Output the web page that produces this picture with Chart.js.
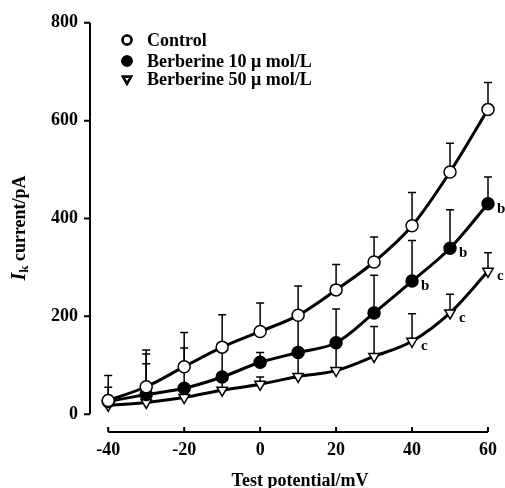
<!DOCTYPE html>
<html>
<head>
<meta charset="utf-8">
<script src="https://cdn.jsdelivr.net/npm/chart.js@4.4.1/dist/chart.umd.min.js"></script>
<style>
    body { margin: 0; background: #fff; }
    #wrap { width: 505px; height: 488px; }
</style>
</head>
<body>
<div id="wrap"><canvas id="ikChart" width="505" height="488"></canvas></div>
<script>
// ===== Datos =====
const testPotential = [-40, -30, -20, -10, 0, 10, 20, 30, 40, 50, 60];
const controlMean = [28, 56, 97, 137, 169, 202, 254, 311, 385, 495, 623];
const controlSD   = [51, 75, 70, 66, 58, 60, 52, 51, 68, 59, 55];
const ber10Mean   = [26, 40, 53, 76, 106, 126, 146, 207, 272, 339, 430];
const ber10SD     = [29, 83, 82, 51, 20, 71, 69, 77, 83, 79, 55];
const ber50Mean   = [18, 24, 34, 49, 61, 77, 89, 118, 149, 207, 292];
const ber50SD     = [20, 79, 15, 20, 15, 50, 60, 61, 56, 38, 38];
const ber10Marks  = ['', '', '', '', '', '', '', '', 'b', 'b', 'b'];
const ber50Marks  = ['', '', '', '', '', '', '', '', 'c', 'c', 'c'];
const xTicks = [-40, -20, 0, 20, 40, 60];
const yTicks = [0, 200, 400, 600, 800];

const seriesLabels = ['Control', 'Berberine 10 \u03bc mol/L', 'Berberine 50 \u03bc mol/L'];
const FONT = '"Liberation Serif", "Times New Roman", serif';

function toPoints(means) {
    return testPotential.map((x, i) => ({ x: x, y: means[i] }));
}

// Barras de error (solo hacia arriba)
const errorBars = {
    id: 'errorBars',
    beforeDatasetsDraw(chart) {
        const ctx = chart.ctx;
        const yScale = chart.scales.y;
        const sds = [controlSD, ber10SD, ber50SD];
        const means = [controlMean, ber10Mean, ber50Mean];
        ctx.save();
        ctx.strokeStyle = '#000';
        ctx.lineWidth = 1.5;
        chart.data.datasets.forEach((ds, d) => {
            const meta = chart.getDatasetMeta(d);
            meta.data.forEach((pt, i) => {
                const top = yScale.getPixelForValue(means[d][i] + sds[d][i]);
                ctx.beginPath();
                ctx.moveTo(pt.x, pt.y);
                ctx.lineTo(pt.x, top);
                ctx.moveTo(pt.x - 4, top);
                ctx.lineTo(pt.x + 4, top);
                ctx.stroke();
            });
        });
        ctx.restore();
    }
};

// Ejes, leyenda, letras de significancia y títulos
const decorations = {
    id: 'decorations',
    afterDraw(chart) {
        const ctx = chart.ctx;
        const xs = chart.scales.x;
        const ys = chart.scales.y;
        const left = chart.chartArea.left;
        const bottom = chart.chartArea.bottom;
        ctx.save();
        ctx.strokeStyle = '#000';
        ctx.fillStyle = '#000';
        ctx.lineWidth = 2;

        // eje Y
        ctx.beginPath();
        ctx.moveTo(left, ys.getPixelForValue(0));
        ctx.lineTo(left, ys.getPixelForValue(800));
        yTicks.forEach(v => {
            const py = ys.getPixelForValue(v);
            ctx.moveTo(left - 6, py);
            ctx.lineTo(left, py);
        });
        ctx.stroke();

        // eje X
        ctx.beginPath();
        ctx.moveTo(xs.getPixelForValue(-40), bottom);
        ctx.lineTo(xs.getPixelForValue(60), bottom);
        xTicks.forEach(v => {
            const px = xs.getPixelForValue(v);
            ctx.moveTo(px, bottom);
            ctx.lineTo(px, bottom - 5);
        });
        ctx.stroke();

        // letras b / c
        ctx.font = 'bold 15px ' + FONT;
        ctx.textAlign = 'left';
        ctx.textBaseline = 'middle';
        [[1, ber10Marks], [2, ber50Marks]].forEach(([d, marks]) => {
            const meta = chart.getDatasetMeta(d);
            meta.data.forEach((pt, i) => {
                if (marks[i]) ctx.fillText(marks[i], pt.x + 9, pt.y + 5);
            });
        });

        // leyenda
        const rows = [40, 61, 79];
        ctx.font = 'bold 18px ' + FONT;
        chart.data.datasets.forEach((ds, d) => {
            Chart.helpers.drawPoint(ctx, {
                pointStyle: ds.pointStyle,
                radius: 4.5,
                rotation: ds.pointRotation || 0,
                borderWidth: 2.5
            }, 127, rows[d]);
            ctx.fillStyle = ds.pointBackgroundColor;
            ctx.strokeStyle = '#000';
            ctx.lineWidth = 2.5;
            ctx.fill();
            ctx.stroke();
            ctx.fillStyle = '#000';
            ctx.fillText(seriesLabels[d], 147, rows[d] + 1);
        });

        // título eje X
        ctx.font = 'bold 18px ' + FONT;
        ctx.textAlign = 'center';
        ctx.fillText('Test potential/mV', 300, 481);

        // título eje Y: I (cursiva) con subíndice k
        ctx.translate(20, 228);
        ctx.rotate(-Math.PI / 2);
        const iFont = 'italic bold 20px ' + FONT;
        const kFont = 'bold 13px ' + FONT;
        const rFont = 'bold 18px ' + FONT;
        const rest = ' current/pA';
        ctx.font = iFont; const wI = ctx.measureText('I').width;
        ctx.font = kFont; const wK = ctx.measureText('k').width;
        ctx.font = rFont; const wR = ctx.measureText(rest).width;
        let x0 = -(wI + wK + wR) / 2;
        ctx.textAlign = 'left';
        ctx.font = iFont; ctx.fillText('I', x0, 0);
        ctx.font = kFont; ctx.fillText('k', x0 + wI, 5);
        ctx.font = rFont; ctx.fillText(rest, x0 + wI + wK, 0);
        ctx.restore();
    }
};

const common = {
    borderColor: '#000',
    borderWidth: 3,
    pointBorderColor: '#000',
    pointBorderWidth: 1.5,
    pointRadius: 6,
    cubicInterpolationMode: 'monotone',
    clip: false,
    fill: false
};

const ctx = document.getElementById('ikChart').getContext('2d');
new Chart(ctx, {
    type: 'line',
    data: {
        datasets: [
            Object.assign({ label: seriesLabels[0], data: toPoints(controlMean),
                pointStyle: 'circle', pointBackgroundColor: '#fff', order: 0 }, common),
            Object.assign({ label: seriesLabels[1], data: toPoints(ber10Mean),
                pointStyle: 'circle', pointBackgroundColor: '#000', order: 1 }, common),
            Object.assign({ label: seriesLabels[2], data: toPoints(ber50Mean),
                pointStyle: 'triangle', pointRotation: 180, pointBackgroundColor: '#fff', order: 2 }, common)
        ]
    },
    options: {
        responsive: false,
        animation: false,
        layout: { padding: { top: 20, right: 16, left: 0, bottom: 0 } },
        plugins: { legend: { display: false }, tooltip: { enabled: false } },
        scales: {
            x: {
                type: 'linear', min: -44.8, max: 60,
                grid: { display: false, drawTicks: false },
                border: { display: false },
                afterBuildTicks: s => { s.ticks = xTicks.map(v => ({ value: v })); },
                afterFit: s => { s.height = 56; },
                ticks: { color: '#000', padding: 8, font: { family: FONT, size: 18, weight: 'bold' } }
            },
            y: {
                min: -36.5, max: 800,
                grid: { display: false, drawTicks: false },
                border: { display: false },
                afterBuildTicks: s => { s.ticks = yTicks.map(v => ({ value: v })); },
                afterFit: s => { s.width = 90; },
                ticks: { color: '#000', padding: 12, font: { family: FONT, size: 18, weight: 'bold' } }
            }
        }
    },
    plugins: [errorBars, decorations]
});
</script>
</body>
</html>
